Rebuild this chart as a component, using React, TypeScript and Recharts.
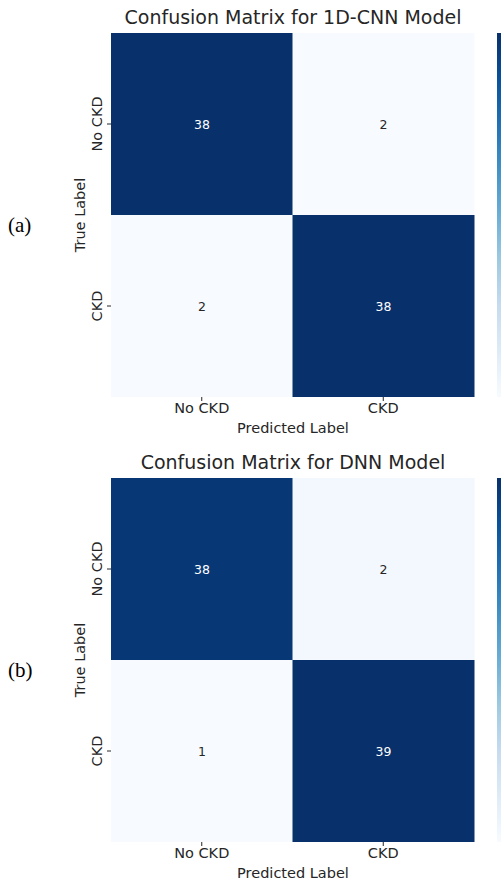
import React from 'react';
import { BarChart, Bar, XAxis, YAxis, Cell, LabelList } from 'recharts';

// confusion matrices: rows = true label, columns = predicted label
const predictedLabels = ['No CKD', 'CKD'];
const trueLabels = ['No CKD', 'CKD'];
const cnnMatrix = [
  [38, 2],
  [2, 38],
];
const dnnMatrix = [
  [38, 2],
  [1, 39],
];

// matplotlib "Blues"
const bluesStops = ['#f7fbff', '#deebf7', '#c6dbef', '#9ecae1', '#6baed6', '#4292c6', '#2171b5', '#08519c', '#08306b'];

const hexToRgb = (h: string) => [1, 3, 5].map((i) => parseInt(h.slice(i, i + 2), 16));

function blues(t: number) {
  const c = Math.max(0, Math.min(1, t)) * (bluesStops.length - 1);
  const i = Math.min(Math.floor(c), bluesStops.length - 2);
  const f = c - i;
  const a = hexToRgb(bluesStops[i]);
  const b = hexToRgb(bluesStops[i + 1]);
  const rgb = a.map((v, k) => Math.round(v + (b[k] - v) * f));
  return `rgb(${rgb.join(',')})`;
}

const FONT = '"DejaVu Sans", sans-serif';
const INK = '#262626';

// one bar per predicted label, stacked cells: bottom = CKD row, top = No CKD row
function buildRows(matrix: number[][]) {
  return predictedLabels.map((p, j) => ({
    pred: p,
    cellCkd: 1,
    cellNo: 1,
    valCkd: matrix[1][j],
    valNo: matrix[0][j],
  }));
}

function Panel({ id, title, tag, matrix, height, xAxisHeight }: any) {
  const flat = matrix.flat();
  const vmin = Math.min(...flat);
  const vmax = Math.max(...flat);
  const norm = (v: number) => (v - vmin) / (vmax - vmin);
  const rows = buildRows(matrix);
  const plotBottom = height - xAxisHeight;

  const annot = (props: any) => {
    const { x, y, width, height: h, value } = props;
    return (
      <text
        x={x + width / 2}
        y={y + h / 2}
        textAnchor="middle"
        dominantBaseline="central"
        fontSize={12.5}
        fontFamily={FONT}
        fill={norm(value) > 0.5 ? '#ffffff' : INK}
      >
        {value}
      </text>
    );
  };

  const yTick = ({ x, y, payload }: any) => {
    const label = trueLabels[trueLabels.length - 1 - Math.floor(payload.value)];
    return (
      <text
        transform={`translate(${x - 3},${y}) rotate(-90)`}
        textAnchor="middle"
        fontSize={14.5}
        fontFamily={FONT}
        fill={INK}
      >
        {label}
      </text>
    );
  };

  return (
    <BarChart
      width={501}
      height={height}
      data={rows}
      margin={{ top: 33, right: 27, bottom: 0, left: 0 }}
      barCategoryGap={0}
    >
      <defs>
        <linearGradient id={`cbar-${id}`} x1="0" y1="0" x2="0" y2="1">
          {bluesStops
            .slice()
            .reverse()
            .map((c, i) => (
              <stop key={i} offset={`${(i / (bluesStops.length - 1)) * 100}%`} stopColor={c} />
            ))}
        </linearGradient>
      </defs>
      <XAxis
        dataKey="pred"
        type="category"
        height={xAxisHeight}
        axisLine={false}
        tickSize={4}
        tickLine={{ stroke: INK }}
        tick={{ fontSize: 14.5, fontFamily: FONT, fill: INK }}
      />
      <YAxis
        type="number"
        domain={[0, 2]}
        ticks={[0.5, 1.5]}
        width={111}
        axisLine={false}
        tickSize={4}
        tickLine={{ stroke: INK }}
        tick={yTick}
      />
      <Bar dataKey="cellCkd" stackId="m" isAnimationActive={false}>
        {rows.map((r, i) => (
          <Cell key={i} fill={blues(norm(r.valCkd))} />
        ))}
        <LabelList dataKey="valCkd" content={annot} />
      </Bar>
      <Bar dataKey="cellNo" stackId="m" isAnimationActive={false}>
        {rows.map((r, i) => (
          <Cell key={i} fill={blues(norm(r.valNo))} />
        ))}
        <LabelList dataKey="valNo" content={annot} />
      </Bar>
      <rect x={497} y={33} width={12} height={plotBottom - 33} fill={`url(#cbar-${id})`} />
      <text x={293} y={24} textAnchor="middle" fontSize={19} fontFamily={FONT} fill={INK}>
        {title}
      </text>
      <text x={293} y={plotBottom + 36} textAnchor="middle" fontSize={14.5} fontFamily={FONT} fill={INK}>
        Predicted Label
      </text>
      <text
        transform={`translate(85,${(33 + plotBottom) / 2}) rotate(-90)`}
        textAnchor="middle"
        fontSize={14.5}
        fontFamily={FONT}
        fill={INK}
      >
        True Label
      </text>
      <text x={8} y={232} fontSize={21} fontFamily='"Liberation Serif", serif' fill="#000">
        {tag}
      </text>
    </BarChart>
  );
}

export default function App() {
  return (
    <div style={{ position: 'absolute', left: 0, top: 0, width: 501, height: 882, background: '#fff' }}>
      <div style={{ position: 'absolute', left: 0, top: 0 }}>
        <Panel id="a" title="Confusion Matrix for 1D-CNN Model" tag="(a)" matrix={cnnMatrix} height={441} xAxisHeight={44} />
      </div>
      <div style={{ position: 'absolute', left: 0, top: 445 }}>
        <Panel id="b" title="Confusion Matrix for DNN Model" tag="(b)" matrix={dnnMatrix} height={437} xAxisHeight={40} />
      </div>
    </div>
  );
}
